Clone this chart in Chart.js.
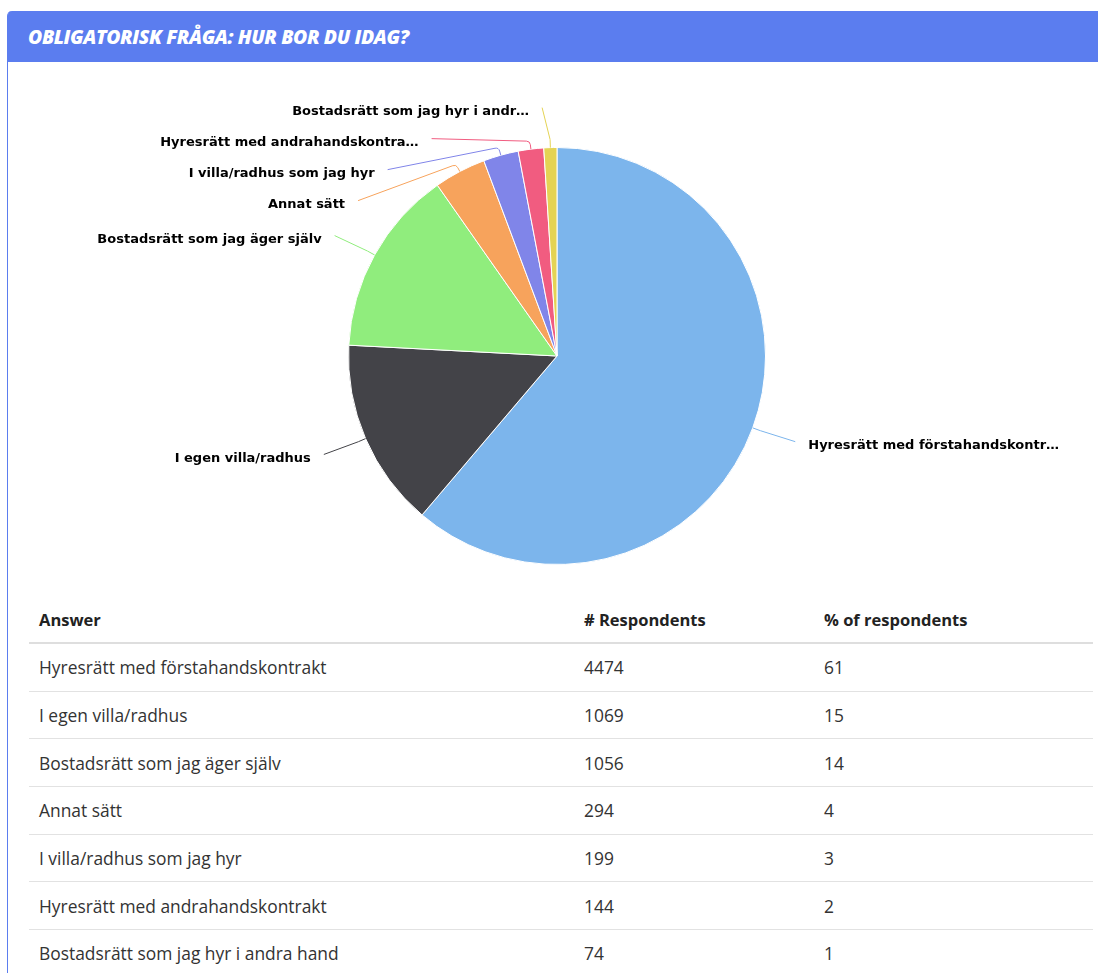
<!DOCTYPE html>
<html>
<head>
<meta charset="utf-8">
<script src="https://cdn.jsdelivr.net/npm/chart.js@4/dist/chart.umd.min.js"></script>
<style>
  html, body { margin:0; padding:0; background:#fff; overflow:hidden; }
  body { width:1098px; height:973px; position:relative; font-family:"Open Sans", Roboto, sans-serif; color:#333; }
  .card { position:absolute; left:7px; top:11px; width:1120px; height:1000px; border-left:1.5px solid #5b7def; border-top-left-radius:5px; }
  .card-head { height:51px; background:#5b7def; border-top-left-radius:4px; color:#fff; font-style:italic; font-weight:800; font-size:19.4px; line-height:51px; padding-left:20px; letter-spacing:-0.4px; }
  .chart-wrap { position:absolute; left:1px; top:51px; width:1096px; height:530px; }
  table { position:absolute; left:21px; top:586px; width:1064px; border-collapse:collapse; }
  th { text-align:left; font-weight:700; font-size:16.5px; color:#222; height:45px; padding:0 10px; border-bottom:2.5px solid #dedede; }
  td { height:46.7px; padding:0 10px; font-size:17.4px; border-bottom:1px solid #e2e2e2; color:#333; }
</style>
</head>
<body>
<div class="card">
  <div class="card-head">OBLIGATORISK FRÅGA: HUR BOR DU IDAG?</div>
  <div class="chart-wrap"><canvas id="pieChart"></canvas></div>
  <table>
    <thead><tr><th style="width:525px">Answer</th><th style="width:220px"># Respondents</th><th>% of respondents</th></tr></thead>
    <tbody id="respBody"></tbody>
  </table>
</div>
<script>
var CATEGORIES = [
  'Hyresrätt med förstahandskontrakt',
  'I egen villa/radhus',
  'Bostadsrätt som jag äger själv',
  'Annat sätt',
  'I villa/radhus som jag hyr',
  'Hyresrätt med andrahandskontrakt',
  'Bostadsrätt som jag hyr i andra hand'
];
var RESPONDENTS = [4474, 1069, 1056, 294, 199, 144, 74];
var PERCENTS = [61, 15, 14, 4, 3, 2, 1];
var COLORS = ['#7cb5ec', '#434348', '#90ed7d', '#f7a35c', '#8085e9', '#f15c80', '#e4d354'];

/* Table */
document.getElementById('respBody').innerHTML = CATEGORIES.map(function(c, i) {
  return '<tr><td>' + c + '</td><td>' + RESPONDENTS[i] + '</td><td>' + PERCENTS[i] + '</td></tr>';
}).join('');

/* Data labels with connectors, Highcharts-like */
var DIST = 40;
function shortName(s) { return s.length > 30 ? s.slice(0, 30) + '…' : s; }

var sliceLabels = {
  id: 'sliceLabels',
  afterDatasetsDraw: function(chart) {
    var meta = chart.getDatasetMeta(0);
    var ctx = chart.ctx;
    var items = meta.data.map(function(arc, i) {
      var p = arc.getProps(['x', 'y', 'startAngle', 'endAngle', 'outerRadius'], true);
      var mid = (p.startAngle + p.endAngle) / 2;
      var R = p.outerRadius + DIST;
      return { i:i, cx:p.x, cy:p.y, r:p.outerRadius, R:R, mid:mid,
               left: Math.cos(mid) < 0, natY: p.y + R * Math.sin(mid) };
    });
    [true, false].forEach(function(side) {
      var group = items.filter(function(it){ return it.left === side; });
      group.sort(function(a, b){ return a.natY - b.natY; });
      var prev = -1e9;
      group.forEach(function(it) {
        it.y = Math.max(it.natY, prev + 31);
        prev = it.y;
      });
    });

    ctx.save();
    ctx.font = 'bold 13px "DejaVu Sans", sans-serif';
    ctx.textBaseline = 'middle';
    items.forEach(function(it) {
      var dy = Math.max(-it.R, Math.min(it.R, it.y - it.cy));
      var dx = Math.sqrt(it.R * it.R - dy * dy) + 5;
      var ex = it.cx + it.r * Math.cos(it.mid), ey = it.cy + it.r * Math.sin(it.mid);
      var bx = it.cx + (it.r + 8) * Math.cos(it.mid), by = it.cy + (it.r + 8) * Math.sin(it.mid);
      var lx = it.left ? Math.min(it.cx - dx, bx - 8) : Math.max(it.cx + dx, bx + 8);
      var ly = it.y;
      ctx.beginPath();
      ctx.moveTo(lx, ly);
      ctx.arcTo(bx, by, ex, ey, 4);
      ctx.lineTo(ex, ey);
      ctx.strokeStyle = COLORS[it.i];
      ctx.lineWidth = 1;
      ctx.stroke();
      ctx.fillStyle = '#000';
      ctx.textAlign = it.left ? 'right' : 'left';
      ctx.fillText(shortName(CATEGORIES[it.i]), it.left ? lx - 13 : lx + 13, ly + 4);
    });
    ctx.restore();
  }
};

new Chart(document.getElementById('pieChart'), {
  type: 'pie',
  data: {
    labels: CATEGORIES,
    datasets: [{
      data: RESPONDENTS,
      backgroundColor: COLORS,
      borderColor: '#ffffff',
      borderWidth: 1
    }]
  },
  options: {
    responsive: true,
    maintainAspectRatio: false,
    animation: false,
    layout: { padding: { top: 85, bottom: 27, left: 0, right: 0 } },
    plugins: { legend: { display: false }, tooltip: { enabled: false } }
  },
  plugins: [sliceLabels]
});
</script>
</body>
</html>
